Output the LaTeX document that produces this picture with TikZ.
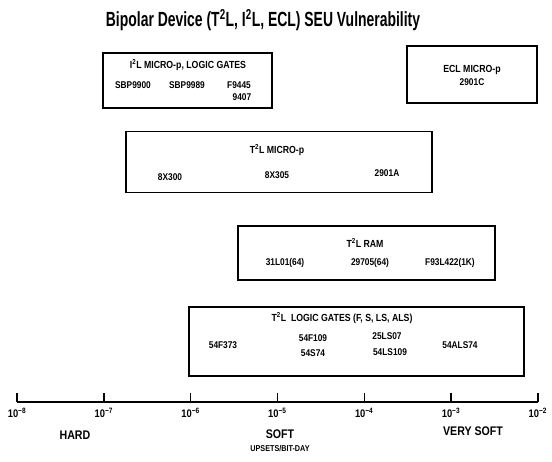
\documentclass[tikz,border=0pt]{standalone}
\usepackage{fontspec}
\setmainfont{Liberation Sans}[FakeStretch=0.85]
\newfontfamily\titlefont{Liberation Sans}[FakeStretch=0.68]

\tikzset{
  devbox/.style={draw=black, line width=1.4pt, inner sep=0pt},
  part/.style={font=\bfseries\fontsize{9.8}{10}\selectfont, inner sep=0pt},
  boxtitle/.style={font=\bfseries\fontsize{10.3}{11}\selectfont, inner sep=0pt},
  scalelab/.style={font=\bfseries\fontsize{12.5}{13}\selectfont, inner sep=0pt},
  decade/.style={font=\bfseries\fontsize{11}{12}\selectfont, inner sep=0pt}
}

\begin{document}
\begin{tikzpicture}[x=1pt, y=-1pt, line width=1.4pt]
\useasboundingbox (0,0) rectangle (552,461);
% title
\node[inner sep=0pt, font=\titlefont\bfseries\fontsize{20.5}{21}\selectfont] (title) at (263,20)
  {Bipolar Device (T\textsuperscript{2}L, I\textsuperscript{2}L, ECL) SEU Vulnerability};
%% box I2L
\node[devbox, minimum width=169pt, minimum height=55pt] (i2lbox) at (187.5,80.5) {};
\node[boxtitle] (i2ltitle) at (188,65) {I\textsuperscript{2}L MICRO-p, LOGIC GATES};
\node[part] (sbpa) at (133,85) {SBP9900};
\node[part] (sbpb) at (187,85) {SBP9989};
\node[part] (fnine) at (239,85) {F9445};
\node[part] (ninefour) at (242,97) {9407};
%% box ECL
\node[devbox, minimum width=130pt, minimum height=57pt] (eclbox) at (472,74.5) {};
\node[boxtitle] (ecltitle) at (472,70) {ECL MICRO-p};
\node[part] (eclc) at (472,82) {2901C};
%% box T2L micro
\node[devbox, minimum width=306pt, minimum height=61pt] (tmbox) at (279,162) {};
\node[boxtitle] (tmtitle) at (277,150) {T\textsuperscript{2}L MICRO-p};
\node[part] (xa) at (170,177) {8X300};
\node[part] (xb) at (277,175) {8X305};
\node[part] (xc) at (387,173) {2901A};
%% box T2L RAM
\node[devbox, minimum width=257pt, minimum height=54pt] (rambox) at (366.5,253) {};
\node[boxtitle] (ramtitle) at (365,243) {T\textsuperscript{2}L RAM};
\node[part] (rama) at (285,263) {31L01(64)};
\node[part] (ramb) at (370,263) {29705(64)};
\node[part] (ramc) at (450,263) {F93L422(1K)};
%% box T2L logic gates
\node[devbox, minimum width=335pt, minimum height=69pt] (lgbox) at (356.5,341.5) {};
\node[boxtitle] (lgtitle) at (342,318) {T\textsuperscript{2}L \ LOGIC GATES (F, S, LS, ALS)};
\node[part] (lga) at (223,345) {54F373};
\node[part] (lgb) at (313,338) {54F109};
\node[part] (lgc) at (313,353) {54S74};
\node[part] (lgd) at (387,336) {25LS07};
\node[part] (lge) at (390,352) {54LS109};
\node[part] (lgf) at (460,345) {54ALS74};
%% scale
\foreach \e [count=\n from 0] in {8,7,...,2} {
  \coordinate (t\e) at (17+86.8*\n,402);
  \draw (t\e) -- ++(0,-9);
  \node[decade] (d\e) at (17+86.8*\n,413) {10\textsuperscript{−\e}};
}
\draw (t8) -- (t2);
\node[scalelab] (hard) at (75,435) {HARD};
\node[scalelab] (soft) at (280,434) {SOFT};
\node[scalelab] (vsoft) at (473,431) {VERY SOFT};
\node[font=\bfseries\fontsize{8.5}{9}\selectfont, inner sep=0pt] (unit) at (280,448) {UPSETS/BIT-DAY};
\end{tikzpicture}
\end{document}
